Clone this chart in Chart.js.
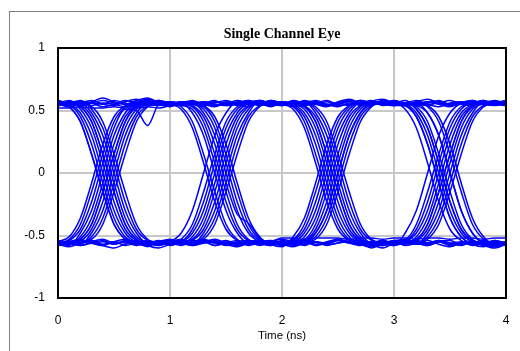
<!DOCTYPE html>
<html>
<head>
<meta charset="utf-8">
<title>Single Channel Eye</title>
<script src="https://cdn.jsdelivr.net/npm/chart.js@4.4.1/dist/chart.umd.min.js"></script>
<style>
  html, body { margin: 0; padding: 0; background: #fff; }
  #wrap { position: relative; width: 520px; height: 351px; overflow: hidden; }
  #frame { position: absolute; left: 9px; top: 11px; width: 600px; height: 400px; border: 1px solid #808080; }
  #eye { position: absolute; left: 0; top: 0; }
</style>
</head>
<body>
<div id="wrap">
  <div id="frame"></div>
  <canvas id="eye" width="520" height="351"></canvas>
</div>
<script>
// sample times (ns), shared by every trace
const timeNs = [0, 0.1, 0.2, 0.3, 0.4, 0.5, 0.6, 0.7, 0.8, 0.9,
  1.0, 1.1, 1.2, 1.3, 1.4, 1.5, 1.6, 1.7, 1.8, 1.9,
  2.0, 2.1, 2.2, 2.3, 2.4, 2.5, 2.6, 2.7, 2.8, 2.9,
  3.0, 3.1, 3.2, 3.3, 3.4, 3.5, 3.6, 3.7, 3.8, 3.9, 4.0];

const xTicks = [0, 1, 2, 3, 4];
const yTicks = [-1, -0.5, 0, 0.5, 1];

// one array per 4 ns slice of the waveform (volts)
const trace01 = [0.56, 0.55, 0.48, 0.30, 0, -0.30, -0.48, -0.55, -0.56, -0.54,
  -0.57, -0.55, -0.53, -0.41, -0.15, 0.15, 0.41, 0.53, 0.56, 0.54,
  0.57, 0.55, 0.48, 0.30, 0, -0.30, -0.48, -0.55, -0.58, -0.54,
  -0.56, -0.55, -0.53, -0.41, -0.15, 0.15, 0.41, 0.53, 0.55, 0.57, 0.54];
const trace02 = [-0.57, -0.55, -0.54, -0.45, -0.23, 0.08, 0.36, 0.51, 0.56, 0.58,
  0.55, 0.56, 0.48, 0.30, 0, -0.30, -0.48, -0.56, -0.54, -0.57,
  -0.55, -0.58, -0.55, -0.48, -0.30, 0, 0.30, 0.48, 0.55, 0.57,
  0.54, 0.54, 0.45, 0.23, -0.08, -0.36, -0.51, -0.56, -0.54, -0.58, -0.56];
const trace03 = [0.54, 0.55, 0.57, 0.56, 0.53, 0.55, 0.58, 0.56, 0.54, 0.55,
  0.57, 0.55, 0.56, 0.48, 0.30, 0, -0.30, -0.48, -0.55, -0.57,
  -0.54, -0.56, -0.55, -0.58, -0.56, -0.53, -0.55, -0.57, -0.56, -0.54,
  -0.57, -0.55, -0.48, -0.30, 0, 0.30, 0.48, 0.55, 0.57, 0.55, 0.56];
const trace04 = [-0.55, -0.57, -0.54, -0.56, -0.58, -0.55, -0.53, -0.56, -0.57, -0.55,
  -0.54, -0.54, -0.45, -0.23, 0.08, 0.36, 0.51, 0.56, 0.58, 0.55,
  0.54, 0.56, 0.57, 0.55, 0.53, 0.56, 0.58, 0.55, 0.54, 0.57,
  0.55, 0.56, 0.54, 0.48, 0.30, 0, -0.30, -0.48, -0.56, -0.55, -0.57];
const trace05 = [0.57, 0.53, 0.41, 0.15, -0.15, -0.41, -0.53, -0.56, -0.58, -0.55,
  -0.53, -0.56, -0.57, -0.54, -0.55, -0.58, -0.56, -0.54, -0.57, -0.55,
  -0.56, -0.54, -0.53, -0.41, -0.15, 0.15, 0.41, 0.53, 0.57, 0.55,
  0.54, 0.56, 0.58, 0.55, 0.53, 0.56, 0.57, 0.54, 0.56, 0.55, 0.57];
const trace06 = [-0.55, -0.58, -0.48, -0.30, 0, 0.30, 0.48, 0.56, 0.59, 0.55,
  0.54, 0.57, 0.55, 0.56, 0.58, 0.54, 0.55, 0.57, 0.56, 0.53,
  0.56, 0.55, 0.57, 0.51, 0.36, 0.08, -0.23, -0.45, -0.54, -0.57,
  -0.55, -0.53, -0.56, -0.58, -0.55, -0.54, -0.57, -0.56, -0.55, -0.58, -0.55];
const trace07 = [0.55, 0.53, 0.56, 0.58, 0.55, 0.54, 0.57, 0.59, 0.56, 0.55,
  0.53, 0.56, 0.55, 0.57, 0.54, 0.55, 0.58, 0.56, 0.55, 0.57,
  0.55, 0.53, 0.41, 0.15, -0.15, -0.41, -0.53, -0.56, -0.55, -0.58,
  -0.56, -0.54, -0.57, -0.51, -0.36, -0.08, 0.23, 0.45, 0.54, 0.56, 0.55];
const trace08 = [-0.58, -0.55, -0.53, -0.56, -0.55, -0.57, -0.54, -0.56, -0.59, -0.55,
  -0.56, -0.54, -0.57, -0.55, -0.53, -0.56, -0.58, -0.55, -0.54, -0.56,
  -0.57, -0.54, -0.45, -0.23, 0.08, 0.36, 0.51, 0.56, 0.55, 0.57,
  0.54, 0.56, 0.53, 0.41, 0.15, -0.15, -0.41, -0.53, -0.57, -0.55, -0.56];
const trace09 = [0.56, 0.55, 0.54, 0.45, 0.23, -0.08, -0.36, -0.51, -0.56, -0.58,
  -0.55, -0.54, -0.56, -0.53, -0.41, -0.15, 0.15, 0.41, 0.53, 0.57,
  0.55, 0.54, 0.56, 0.58, 0.55, 0.53, 0.56, 0.55, 0.57, 0.54,
  0.56, 0.55, 0.48, 0.30, 0, -0.30, -0.48, -0.55, -0.57, -0.54, -0.56];
const trace10 = [-0.56, -0.53, -0.41, -0.15, 0.15, 0.41, 0.53, 0.57, 0.55, 0.54,
  0.56, 0.55, 0.53, 0.41, 0.15, -0.15, -0.41, -0.53, -0.56, -0.55,
  -0.58, -0.56, -0.54, -0.55, -0.57, -0.56, -0.53, -0.55, -0.58, -0.56,
  -0.54, -0.53, -0.41, -0.15, 0.15, 0.41, 0.53, 0.56, 0.58, 0.55, 0.54];
const trace11 = [0.55, 0.57, 0.54, 0.56, 0.55, 0.58, 0.56, 0.54, 0.55, 0.57,
  0.56, 0.53, 0.41, 0.15, -0.15, -0.41, -0.53, -0.57, -0.55, -0.54,
  -0.56, -0.55, -0.48, -0.30, 0, 0.30, 0.48, 0.56, 0.55, 0.58,
  0.56, 0.54, 0.55, 0.57, 0.56, 0.54, 0.55, 0.57, 0.55, 0.56, 0.54];
const trace12 = [-0.54, -0.56, -0.58, -0.55, -0.53, -0.56, -0.55, -0.57, -0.54, -0.56,
  -0.55, -0.57, -0.54, -0.45, -0.23, 0.08, 0.36, 0.51, 0.57, 0.55,
  0.56, 0.54, 0.53, 0.41, 0.15, -0.15, -0.41, -0.53, -0.56, -0.58,
  -0.55, -0.57, -0.54, -0.56, -0.55, -0.58, -0.56, -0.54, -0.57, -0.55, -0.56];
const trace13 = [0.55, 0.57, 0.51, 0.36, 0.08, -0.23, -0.45, -0.54, -0.57, -0.55,
  -0.56, -0.58, -0.55, -0.53, -0.56, -0.57, -0.55, -0.54, -0.56, -0.58,
  -0.55, -0.56, -0.54, -0.57, -0.55, -0.53, -0.56, -0.58, -0.55, -0.57,
  -0.54, -0.56, -0.54, -0.45, -0.23, 0.08, 0.36, 0.51, 0.56, 0.58, 0.55];
const trace14 = [-0.57, -0.55, -0.56, -0.51, -0.36, -0.08, 0.23, 0.45, 0.54, 0.58,
  0.56, 0.55, 0.57, 0.54, 0.56, 0.58, 0.55, 0.53, 0.56, 0.55,
  0.57, 0.55, 0.54, 0.56, 0.58, 0.55, 0.57, 0.54, 0.56, 0.55,
  0.56, 0.51, 0.36, 0.08, -0.23, -0.45, -0.54, -0.57, -0.55, -0.56, -0.58];
const trace15 = [0.52, 0.52, 0.53, 0.52, 0.52, 0.53, 0.52, 0.52, 0.53, 0.52,
  0.54, 0.56, 0.55, 0.57, 0.55, 0.54, 0.56, 0.58, 0.55, 0.56,
  0.54, 0.57, 0.55, 0.56, 0.54, 0.55, 0.58, 0.56, 0.55, 0.57,
  0.55, 0.54, 0.56, 0.53, 0.41, 0.15, -0.15, -0.41, -0.53, -0.57, -0.55];
const trace16 = [-0.56, -0.55, -0.58, -0.56, -0.54, -0.57, -0.55, -0.56, -0.54, -0.57,
  -0.55, -0.53, -0.56, -0.55, -0.58, -0.55, -0.57, -0.54, -0.56, -0.55,
  -0.53, -0.55, -0.57, -0.55, -0.56, -0.54, -0.55, -0.57, -0.56, -0.58,
  -0.55, -0.54, -0.45, -0.23, 0.08, 0.36, 0.51, 0.56, 0.55, 0.57, 0.56];
const trace17 = [0.54, 0.56, 0.58, 0.51, 0.36, 0.08, -0.23, -0.45, -0.54, -0.57,
  -0.55, -0.56, -0.51, -0.36, -0.08, 0.23, 0.45, 0.54, 0.57, 0.55,
  0.56, 0.57, 0.54, 0.45, 0.23, -0.08, -0.36, -0.51, -0.56, -0.55,
  -0.58, -0.56, -0.55, -0.57, -0.54, -0.56, -0.55, -0.58, -0.56, -0.54, -0.57];
const trace18 = [-0.55, -0.57, -0.53, -0.41, -0.15, 0.15, 0.41, 0.53, 0.57, 0.55,
  0.54, 0.56, 0.55, 0.51, 0.36, 0.08, -0.23, -0.45, -0.54, -0.57,
  -0.55, -0.53, -0.41, -0.15, 0.15, 0.41, 0.53, 0.58, 0.56, 0.55,
  0.57, 0.55, 0.54, 0.56, 0.58, 0.55, 0.56, 0.54, 0.57, 0.55, 0.56];
const trace19 = [0.57, 0.55, 0.54, 0.56, 0.58, 0.56, 0.55, 0.53, 0.56, 0.57,
  0.55, 0.54, 0.51, 0.36, 0.08, -0.23, -0.45, -0.54, -0.56, -0.58,
  -0.55, -0.57, -0.56, -0.51, -0.36, -0.08, 0.23, 0.45, 0.54, 0.57,
  0.55, 0.56, 0.51, 0.36, 0.08, -0.23, -0.45, -0.54, -0.57, -0.55, -0.56];
const trace20 = [-0.57, -0.55, -0.54, -0.56, -0.58, -0.55, -0.56, -0.54, -0.57, -0.55,
  -0.56, -0.55, -0.48, -0.30, 0, 0.30, 0.48, 0.56, 0.58, 0.55,
  0.57, 0.55, 0.51, 0.36, 0.08, -0.23, -0.45, -0.54, -0.57, -0.55,
  -0.56, -0.55, -0.53, -0.41, -0.15, 0.15, 0.41, 0.53, 0.56, 0.55, 0.57];
const trace21 = [0.55, 0.54, 0.45, 0.23, -0.08, -0.36, -0.51, -0.56, -0.58, -0.55,
  -0.57, -0.54, -0.56, -0.55, -0.58, -0.56, -0.54, -0.57, -0.55, -0.56,
  -0.58, -0.55, -0.54, -0.45, -0.23, 0.08, 0.36, 0.51, 0.56, 0.55,
  0.57, 0.54, 0.56, 0.48, 0.30, 0, -0.30, -0.48, -0.56, -0.58, -0.55];
const trace22 = [-0.56, -0.54, -0.45, -0.23, 0.08, 0.36, 0.51, 0.50, 0.38, 0.55,
  0.57, 0.55, 0.56, 0.54, 0.57, 0.55, 0.56, 0.58, 0.55, 0.54,
  0.56, 0.54, 0.45, 0.23, -0.08, -0.36, -0.51, -0.56, -0.55, -0.57,
  -0.55, -0.56, -0.51, -0.36, -0.08, 0.23, 0.45, 0.54, 0.57, 0.55, 0.56];
const trace23 = [-0.55, -0.57, -0.55, -0.53, -0.41, -0.15, 0.15, 0.41, 0.53, 0.57,
  0.56, 0.54, 0.57, 0.55, 0.53, 0.56, 0.55, 0.57, 0.54, 0.56,
  0.55, 0.58, 0.56, 0.55, 0.57, 0.54, 0.55, 0.56, 0.58, 0.55,
  0.54, 0.56, 0.55, 0.57, 0.55, 0.53, 0.56, 0.55, 0.57, 0.56, 0.55];
const trace24 = [0.56, 0.55, 0.53, 0.41, 0.15, -0.15, -0.41, -0.53, -0.56, -0.55,
  -0.57, -0.55, -0.54, -0.56, -0.55, -0.57, -0.55, -0.54, -0.56, -0.55,
  -0.52, -0.52, -0.53, -0.52, -0.52, -0.52, -0.53, -0.52, -0.52, -0.53,
  -0.52, -0.52, -0.53, -0.52, -0.52, -0.53, -0.52, -0.52, -0.53, -0.52, -0.52];
const trace25 = [0.56, 0.55, 0.57, 0.54, 0.56, 0.55, 0.53, 0.55, 0.57, 0.56,
  0.54, 0.55, 0.57, 0.56, 0.54, 0.57, 0.55, 0.56, 0.54, 0.58,
  0.56, 0.55, 0.57, 0.48, 0.30, 0, -0.30, -0.48, -0.56, -0.54,
  -0.57, -0.55, -0.56, -0.58, -0.55, -0.57, -0.56, -0.55, -0.57, -0.59, -0.56];
const trace26 = [-0.55, -0.57, -0.56, -0.54, -0.57, -0.55, -0.58, -0.56, -0.55, -0.57,
  -0.54, -0.56, -0.58, -0.55, -0.56, -0.54, -0.57, -0.55, -0.58, -0.56,
  -0.55, -0.57, -0.51, -0.36, -0.08, 0.23, 0.45, 0.54, 0.57, 0.55,
  0.56, 0.54, 0.57, 0.55, 0.56, 0.58, 0.55, 0.54, 0.56, 0.57, 0.55];
const trace27 = [0.57, 0.55, 0.56, 0.48, 0.30, 0, -0.30, -0.48, -0.56, -0.55,
  -0.57, -0.53, -0.41, -0.15, 0.15, 0.41, 0.53, 0.56, 0.55, 0.57,
  0.54, 0.56, 0.55, 0.57, 0.55, 0.56, 0.54, 0.57, 0.55, 0.56,
  0.58, 0.56, 0.55, 0.54, 0.57, 0.55, 0.56, 0.58, 0.55, 0.54, 0.56];
const trace28 = [-0.56, -0.55, -0.57, -0.48, -0.30, 0, 0.30, 0.48, 0.56, 0.58,
  0.55, 0.57, 0.55, 0.53, 0.41, 0.15, -0.15, -0.41, -0.53, -0.57,
  -0.55, -0.56, -0.58, -0.55, -0.57, -0.54, -0.56, -0.55, -0.57, -0.56,
  -0.58, -0.55, -0.57, -0.56, -0.54, -0.56, -0.58, -0.55, -0.57, -0.55, -0.58];
const trace29 = [0.58, 0.56, 0.55, 0.53, 0.41, 0.15, -0.15, -0.41, -0.53, -0.57,
  -0.55, -0.48, -0.30, 0, 0.30, 0.48, 0.57, 0.55, 0.56, 0.54,
  0.57, 0.55, 0.56, 0.53, 0.41, 0.15, -0.15, -0.41, -0.53, -0.56,
  -0.58, -0.48, -0.30, 0, 0.30, 0.48, 0.56, 0.58, 0.55, 0.57, 0.55];
const trace30 = [-0.55, -0.51, -0.36, -0.08, 0.23, 0.45, 0.54, 0.58, 0.60, 0.56,
  0.55, 0.57, 0.56, 0.54, 0.45, 0.23, -0.08, -0.36, -0.51, -0.57,
  -0.59, -0.51, -0.36, -0.08, 0.23, 0.45, 0.54, 0.58, 0.56, 0.55,
  0.57, 0.55, 0.56, 0.54, 0.45, 0.23, -0.08, -0.36, -0.51, -0.57, -0.55];
const trace31 = [-0.58, -0.56, -0.53, -0.41, -0.15, 0.15, 0.41, 0.53, 0.55, 0.57,
  0.54, 0.56, 0.58, 0.55, 0.57, 0.56, 0.54, 0.55, 0.57, 0.56,
  0.55, 0.57, 0.53, 0.41, 0.15, -0.15, -0.41, -0.53, -0.57, -0.60,
  -0.56, -0.55, -0.57, -0.53, -0.41, -0.15, 0.15, 0.41, 0.53, 0.56, 0.58];
const trace32 = [0.55, 0.57, 0.53, 0.41, 0.15, -0.15, -0.41, -0.53, -0.58, -0.60,
  -0.57, -0.55, -0.58, -0.56, -0.54, -0.57, -0.59, -0.56, -0.55, -0.57,
  -0.56, -0.54, -0.56, -0.48, -0.30, 0, 0.30, 0.48, 0.57, 0.59,
  0.56, 0.54, 0.45, 0.23, -0.08, -0.36, -0.51, -0.57, -0.59, -0.56, -0.58];
const trace33 = [-0.54, -0.56, -0.51, -0.36, -0.08, 0.23, 0.45, 0.54, 0.59, 0.57,
  0.55, 0.51, 0.36, 0.08, -0.23, -0.45, -0.54, -0.58, -0.56, -0.55,
  -0.57, -0.59, -0.56, -0.55, -0.58, -0.56, -0.55, -0.57, -0.60, -0.57,
  -0.55, -0.56, -0.57, -0.48, -0.30, 0, 0.30, 0.48, 0.57, 0.55, 0.58];
const trace34 = [0.56, 0.58, 0.55, 0.57, 0.60, 0.57, 0.55, 0.56, 0.58, 0.55,
  0.57, 0.56, 0.54, 0.45, 0.23, -0.08, -0.33, -0.40, -0.52, -0.57,
  -0.55, -0.58, -0.56, -0.53, -0.41, -0.15, 0.15, 0.41, 0.53, 0.58,
  0.56, 0.55, 0.57, 0.59, 0.56, 0.55, 0.57, 0.56, 0.58, 0.55, 0.57];
const trace35 = [-0.57, -0.59, -0.56, -0.55, -0.58, -0.60, -0.57, -0.55, -0.56, -0.58,
  -0.56, -0.55, -0.57, -0.51, -0.36, -0.08, 0.23, 0.45, 0.54, 0.58,
  0.56, 0.55, 0.58, 0.56, 0.54, 0.57, 0.59, 0.56, 0.55, 0.57,
  0.56, 0.58, 0.51, 0.36, 0.08, -0.23, -0.45, -0.54, -0.58, -0.60, -0.57];
const trace36 = [0.58, 0.53, 0.41, 0.15, -0.15, -0.41, -0.53, -0.58, -0.56, -0.55,
  -0.58, -0.56, -0.57, -0.48, -0.30, 0, 0.30, 0.48, 0.58, 0.56,
  0.55, 0.51, 0.36, 0.08, -0.23, -0.45, -0.54, -0.57, -0.59, -0.56,
  -0.55, -0.58, -0.56, -0.54, -0.57, -0.59, -0.56, -0.55, -0.58, -0.56, -0.57];

const traces = [trace01, trace02, trace03, trace04, trace05, trace06, trace07,
  trace08, trace09, trace10, trace11, trace12, trace13, trace14, trace15,
  trace16, trace17, trace18, trace19, trace20, trace21, trace22, trace23,
  trace24, trace25, trace26, trace27, trace28, trace29, trace30, trace31,
  trace32, trace33, trace34, trace35, trace36];

const datasets = traces.map((vals, i) => ({
  label: 'slice ' + (i + 1),
  data: vals.map((v, k) => ({ x: timeNs[k], y: v })),
  borderColor: '#0000ff',
  borderWidth: 1.5,
  pointRadius: 0,
  fill: false,
  cubicInterpolationMode: 'monotone'
}));

// black box round the plot area
const plotBorder = {
  id: 'plotBorder',
  afterDatasetsDraw(chart) {
    const { ctx, chartArea: a } = chart;
    ctx.save();
    ctx.strokeStyle = '#000';
    ctx.lineWidth = 2;
    ctx.strokeRect(a.left, a.top, a.right - a.left, a.bottom - a.top);
    ctx.restore();
  }
};

const ctx = document.getElementById('eye').getContext('2d');
new Chart(ctx, {
  type: 'line',
  data: { datasets },
  options: {
    responsive: false,
    animation: false,
    devicePixelRatio: 1,
    layout: { padding: { left: 0, right: 14, top: 0, bottom: 0 } },
    plugins: {
      legend: { display: false },
      tooltip: { enabled: false },
      title: {
        display: true,
        fullSize: false,
        text: 'Single Channel Eye',
        color: '#000',
        font: { family: '"Liberation Serif", "Times New Roman", serif', size: 14, weight: 'bold' },
        padding: { top: 26, bottom: 5.2 }
      }
    },
    scales: {
      x: {
        type: 'linear',
        min: 0,
        max: 4,
        afterBuildTicks: s => { s.ticks = xTicks.map(v => ({ value: v })); },
        afterFit: s => { s.height = 53; s.paddingLeft = 0; s.paddingRight = 0; },
        grid: { color: '#c8c8c8', lineWidth: 2, drawTicks: false },
        border: { display: false },
        ticks: {
          padding: 15,
          color: '#000',
          callback: v => String(v),
          font: { family: '"Liberation Sans", Arial, sans-serif', size: 12 }
        },
        title: {
          display: true,
          text: 'Time (ns)',
          color: '#000',
          font: { family: '"Liberation Sans", Arial, sans-serif', size: 11.5 },
          padding: { top: 0, bottom: 8 }
        }
      },
      y: {
        min: -1,
        max: 1,
        afterBuildTicks: s => { s.ticks = yTicks.map(v => ({ value: v })); },
        afterFit: s => { s.width = 58; },
        grid: { color: '#c8c8c8', lineWidth: 2, drawTicks: false },
        border: { display: false },
        ticks: {
          padding: 13,
          color: '#000',
          callback: v => String(v),
          font: { family: '"Liberation Sans", Arial, sans-serif', size: 12 }
        }
      }
    }
  },
  plugins: [plotBorder]
});
</script>
</body>
</html>
